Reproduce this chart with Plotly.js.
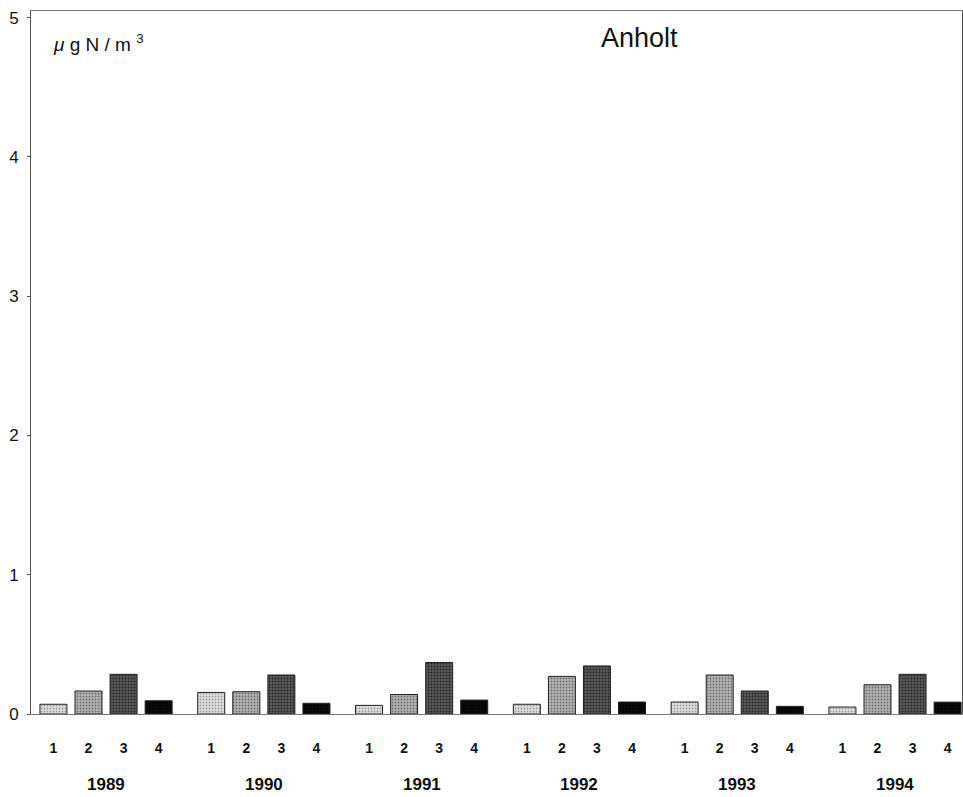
<!DOCTYPE html>
<html><head><meta charset="utf-8">
<script src="https://cdn.plot.ly/plotly-3.0.1.min.js"></script>
<style>body{margin:0;background:#fff}#chart{width:963px;height:797px}</style>
</head><body><div id="chart"></div>
<script>
const years = ['1989','1990','1991','1992','1993','1994'];
const quarters = ['1','2','3','4'];
const q1 = [0.07, 0.155, 0.062, 0.07, 0.086, 0.05];
const q2 = [0.165, 0.16, 0.14, 0.27, 0.28, 0.21];
const q3 = [0.285, 0.28, 0.37, 0.345, 0.165, 0.285];
const q4 = [0.095, 0.077, 0.10, 0.086, 0.055, 0.085];
const yTicks = [0, 1, 2, 3, 4, 5];

const series = [q1, q2, q3, q4];
const colors = ['#e2e2e2', '#b4b4b4', '#5a5a5a', '#0a0a0a'];
const dots = ['#9a9a9a', '#6e6e6e', '#222222', '#000000'];
const groupStep = 4.5;

const traces = series.map((vals, qi) => ({
  type: 'bar',
  x: years.map((y, gi) => gi * groupStep + qi),
  y: vals,
  width: 0.77,
  marker: {color: colors[qi], line: {color: '#222', width: 1},
           pattern: {shape: '.', bgcolor: colors[qi], fgcolor: dots[qi], size: 3, solidity: 0.3}},
  showlegend: false,
  hoverinfo: 'y'
}));

const tickvals = [], ticktext = [];
years.forEach((y, gi) => quarters.forEach((q, qi) => { tickvals.push(gi * groupStep + qi); ticktext.push(q); }));

const annotations = years.map((y, gi) => ({
  x: gi * groupStep + 1.5, xref: 'x', y: -0.1, yref: 'paper', yanchor: 'middle',
  text: '<b>' + y + '</b>', showarrow: false, font: {family: 'Liberation Sans, Arial', size: 17, color: '#111'}
}));
annotations.push({x: 0.654, xref: 'paper', y: 0.962, yref: 'paper', text: 'Anholt', showarrow: false,
  xanchor: 'center', yanchor: 'middle', font: {family: 'Liberation Sans, Arial', size: 27, color: '#111'}});
annotations.push({x: 0.022, xref: 'paper', y: 0.955, yref: 'paper', text: '<i>μ</i> g N / m <sup>3</sup>', showarrow: false,
  xanchor: 'left', yanchor: 'middle', font: {family: 'Liberation Sans, Arial', size: 19, color: '#111'}});

Plotly.newPlot('chart', traces, {
  width: 963, height: 797,
  margin: {l: 31, r: 1, t: 11, b: 83},
  paper_bgcolor: '#fff', plot_bgcolor: '#fff',
  bargap: 0,
  xaxis: {range: [-0.64, 25.91], tickvals: tickvals, ticktext: ticktext, ticks: '', showgrid: false,
          zeroline: false, showline: true, linecolor: '#777', linewidth: 1, mirror: true,
          ticklabelstandoff: 21, tickfont: {family: 'Liberation Sans, Arial', size: 14, color: '#111', weight: 'bold'}},
  yaxis: {range: [0, 5.047], tickvals: yTicks, ticks: 'outside', ticklen: 3, tickcolor: '#555', showgrid: false,
          zeroline: false, showline: true, linecolor: '#555', linewidth: 1, mirror: true,
          ticklabelstandoff: 5, tickfont: {family: 'Liberation Sans, Arial', size: 17, color: '#111'}},
  annotations: annotations
}, {staticPlot: true});
</script></body></html>
